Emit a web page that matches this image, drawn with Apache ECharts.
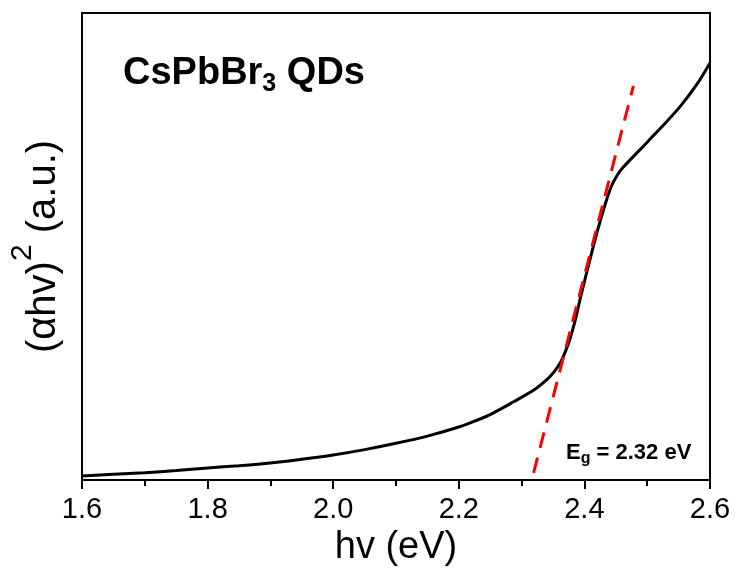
<!DOCTYPE html>
<html><head><meta charset="utf-8">
<script src="https://cdn.jsdelivr.net/npm/echarts@6/dist/echarts.min.js"></script>
<style>html,body{margin:0;padding:0;background:#fff}#c{width:736px;height:574px}</style>
</head><body><div id="c"></div>
<script>
// photon energy (eV)
const energy = [1.60, 1.65, 1.70, 1.75, 1.80, 1.85, 1.90, 1.95, 2.00, 2.05, 2.10, 2.15, 2.20, 2.225, 2.25, 2.288, 2.32, 2.341, 2.352, 2.362, 2.370, 2.377, 2.385, 2.394, 2.404, 2.420, 2.433, 2.443, 2.452, 2.462, 2.489, 2.521, 2.552, 2.579, 2.600];
// (alpha h v)^2, arbitrary units
const absorb = [0.86, 1.22, 1.56, 2.03, 2.57, 3.06, 3.64, 4.43, 5.35, 6.5, 7.85, 9.4, 11.35, 12.6, 14.0, 16.8, 19.3, 21.6, 23.2, 25.2, 27.6, 30.2, 34.0, 39.2, 44.6, 53.0, 59.0, 62.9, 65.2, 67.0, 70.8, 75.3, 79.9, 84.7, 89.3];
// linear extrapolation of the absorption edge
const fitX = [2.319, 2.478];
const fitY = [1.5, 84.4];
const xMin = 1.6, xMax = 2.6, xStep = 0.2;
const titleText = ['CsPbBr', '3', ' QDs'];
const gapText = ['E', 'g', ' = 2.32 eV'];

const FF = "'Liberation Sans', Arial, Helvetica, sans-serif";
const chart = echarts.init(document.getElementById('c'), null, {renderer: 'canvas'});
chart.setOption({
  backgroundColor: '#fff',
  animation: false,
  grid: {left: 80, right: 26, top: 13, bottom: 94, show: true, borderColor: '#000', borderWidth: 2, backgroundColor: 'transparent'},
  xAxis: {
    type: 'value', min: xMin, max: xMax, interval: xStep,
    name: 'hv (eV)', nameLocation: 'middle', nameGap: 47,
    nameTextStyle: {fontFamily: FF, fontSize: 38, color: '#000'},
    axisLine: {show: true, lineStyle: {color: '#000', width: 2}},
    axisTick: {show: true, inside: false, length: 9, lineStyle: {color: '#000', width: 2}},
    minorTick: {show: true, splitNumber: 2, length: 6, lineStyle: {color: '#000', width: 2}},
    axisLabel: {fontFamily: FF, fontSize: 29, color: '#000', margin: 15, formatter: v => v.toFixed(1)},
    splitLine: {show: false}
  },
  yAxis: {
    type: 'value', min: 0, max: 100,
    name: '{m|(αhv)}{s|2}{m| (a.u.)}', nameLocation: 'middle', nameRotate: 90, nameGap: 18,
    nameTextStyle: {
      fontFamily: FF, color: '#000',
      rich: {
        m: {fontFamily: FF, fontSize: 40, lineHeight: 40, color: '#000'},
        s: {fontFamily: FF, fontSize: 30, lineHeight: 30, color: '#000', padding: [0, 0, 42, 0]}
      }
    },
    axisLine: {show: true, lineStyle: {color: '#000', width: 2}},
    axisTick: {show: false}, axisLabel: {show: false}, splitLine: {show: false}
  },
  series: [
    {
      type: 'line', data: energy.map((e, i) => [e, absorb[i]]),
      showSymbol: false, smooth: 0.3,
      lineStyle: {color: '#000', width: 3}, z: 3
    },
    {
      type: 'line', data: fitX.map((e, i) => [e, fitY[i]]),
      showSymbol: false,
      lineStyle: {color: '#ff0000', width: 3, type: [16, 10]}, z: 4
    }
  ],
  graphic: [
    {
      type: 'text', left: 123, top: 51, z: 10,
      style: {
        text: `{m|${titleText[0]}}{s|${titleText[1]}}{m|${titleText[2]}}`,
        rich: {
          m: {fontFamily: FF, fontSize: 38, fontWeight: 'bold', lineHeight: 38, fill: '#000'},
          s: {fontFamily: FF, fontSize: 25, fontWeight: 'bold', lineHeight: 25, fill: '#000', padding: [21, 0, 0, 0]}
        }
      }
    },
    {
      type: 'text', left: 566, top: 439, z: 10,
      style: {
        text: `{m|${gapText[0]}}{s|${gapText[1]}}{m|${gapText[2]}}`,
        rich: {
          m: {fontFamily: FF, fontSize: 22, fontWeight: 'bold', lineHeight: 22, fill: '#000'},
          s: {fontFamily: FF, fontSize: 16, fontWeight: 'bold', lineHeight: 16, fill: '#000', padding: [12, 0, 0, 0]}
        }
      }
    }
  ]
});
</script></body></html>
